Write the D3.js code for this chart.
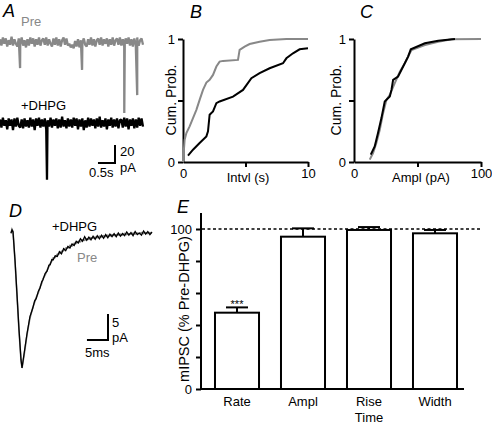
<!DOCTYPE html>
<html><head><meta charset="utf-8">
<script src="https://cdn.jsdelivr.net/npm/d3@7"></script>
<style>
body{margin:0;background:#fff;}
svg text{font-family:"Liberation Sans",Arial,Helvetica,sans-serif;}
</style></head>
<body><svg id="fig" width="492" height="425"></svg>
<script>
// ---------- DATA ----------
// Panel A: raw traces (pA noise samples over 4.2 s) and spike events
const A_DURATION = 4.2;
const preNoise = [3,-4,5,-2,4,-5,2,-3,6,-4,3,-2,-5,4,-3,5,-4,2,-6,3,-4,5,-2,4,-5,3,-3,5,-4,2,4,-3,5,-4,3,-2,-5,4,-3,5,-4,3,-5,2,5,-3,4,-4,-2,-6,-3,-7,1,-5,3,-6,2,-4,4,-3,-5,3,-3,5,-4,3,-5,2,4,-3,5,-4,3,-2,4,-5,3,-3,5,-4,2,4,-3,5,-4,3,-5,4,-2,5,-4,3,-5,4,-3,5,-4,2,4,-3];
const dhpgNoise = [4,-5,6,-3,3,-7,5,-3,4,-8,5,-4,6,-3,-5,4,-6,5,-4,3,-5,6,-4,4,-8,5,-3,6,-5,4,-4,5,-7,3,-4,6,-5,4,-3,5,-6,4,-5,7,-4,3,-6,5,-4,4,-5,6,-3,5,-7,4,-4,5,-8,3,-5,6,-4,5,-3,4,-6,5,-4,7,-5,3,-4,5,-7,4,-3,6,-5,4,-4,5,-6,3,4,-5,6,-4,5,-7,4,-3,5,-6,4,-5,6,-3,5,-4];
const preSpikeTimes = [0.59, 2.41, 3.65, 4.03];
const preSpikeAmps  = [-29, -31, -79, -59];
const dhpgSpikeTimes = [1.38];
const dhpgSpikeAmps  = [-63];

// Panel B: cumulative probability of inter-event interval (s)
const bPreX  = [0,0.13,0.27,0.53,0.8,1.07,1.33,1.6,1.87,2.13,2.4,2.67,2.93,3.2,4.4,4.53,4.93,5.33,6.13,6.93,8.27,10];
const bPreY  = [0,0.18,0.235,0.29,0.357,0.424,0.505,0.586,0.646,0.668,0.708,0.776,0.816,0.822,0.83,0.911,0.938,0.959,0.978,0.992,1.0,1.0];
const bDhpgX = [0.4,0.8,1.33,1.87,2.0,2.13,2.4,2.67,2.93,4.0,4.8,5.47,6.13,6.93,8.0,8.27,8.8,9.33,10];
const bDhpgY = [0.051,0.1,0.154,0.208,0.249,0.384,0.411,0.478,0.492,0.532,0.586,0.681,0.722,0.762,0.803,0.843,0.884,0.916,0.924];

// Panel C: cumulative probability of amplitude (pA)
const cPreX  = [12.4,15.0,17.6,20.3,22.9,25.5,28.2,32.1,36.1,40.0,43.9,45.3,55.8,66.3,76.8,100];
const cPreY  = [0.019,0.073,0.154,0.262,0.397,0.505,0.546,0.641,0.735,0.803,0.884,0.911,0.951,0.978,0.997,1.0];
const cDhpgX = [13.2,16.3,18.9,21.6,24.2,28.2,29.5,30.8,34.7,38.7,42.6,44.7,55.8,66.3,79.5];
const cDhpgY = [0.06,0.127,0.235,0.357,0.492,0.532,0.586,0.668,0.695,0.776,0.857,0.916,0.965,0.986,1.0];

// Panel D: averaged mIPSC (ms, pA)
const dTime = [0,0.24,0.48,0.95,1.43,1.9,2.38,2.62,3.1,3.8,4.5,5.2,5.6,6.0,6.5,6.9,7.3,7.6,8.1,8.6,9.0,9.3,9.7,10.0,10.5,11.0,11.5,12.0,12.5,13.0,13.5,14.0,14.5,15.0,15.5,16.0,16.5,17.0,17.5,18.0,18.5,19.0,19.5,20.0,20.5,21.0,21.5,22.0,22.5,23.0,23.5,24.0,24.5,25.0,25.5,26.0,26.5,27.0,27.5,28.0,28.5,29.0,29.5,30.0,30.5,31.0,31.5,32.0,32.5,33.0,33.5];
const dDhpg = [-0.2,0.4,0,-5.4,-12.1,-18.8,-24.6,-26.2,-23.5,-19.6,-16.3,-14.6,-13.3,-12.8,-11.4,-10.8,-9.6,-9.2,-8.0,-7.5,-6.4,-6.3,-5.3,-5.4,-4.6,-4.7,-3.8,-4.2,-3.2,-3.6,-2.8,-3.1,-2.3,-2.6,-1.8,-2.1,-1.3,-1.8,-0.9,-1.6,-1.0,-1.5,-0.8,-1.4,-0.7,-1.3,-0.6,-1.2,-0.5,-1.1,-0.4,-0.9,-0.3,-0.9,-0.2,-0.8,-0.3,-0.7,0.0,-0.6,-0.1,-0.7,0.1,-0.5,-0.2,-0.6,0.2,-0.4,0.1,-0.5,0.0];
const dPre  = [-0.3,0.5,0.1,-5.6,-12.3,-19.0,-24.8,-26.2,-23.8,-19.8,-16.6,-14.5,-13.6,-12.6,-11.7,-10.6,-9.9,-9.0,-8.3,-7.3,-6.7,-6.1,-5.6,-5.0,-4.9,-4.3,-4.2,-3.7,-3.6,-3.1,-3.1,-2.6,-2.7,-2.2,-2.2,-1.8,-1.9,-1.5,-1.6,-1.3,-1.4,-1.1,-1.2,-1.0,-1.1,-0.8,-1.0,-0.7,-0.9,-0.6,-0.8,-0.5,-0.7,-0.5,-0.6,-0.4,-0.6,-0.3,-0.5,-0.3,-0.4,-0.2,-0.4,-0.2,-0.3,-0.1,-0.3,-0.1,-0.3,-0.1,-0.2];

// Panel E: % of pre-DHPG
const eCategories = ["Rate","Ampl","Rise Time","Width"];
const eMeans = [47.7, 95.2, 99.4, 97.3];
const eSem   = [3.3, 5.2, 1.8, 2.1];
const eTickLabels = {0:"0", 100:"100"};

// ---------- DRAWING ----------
const svg = d3.select("#fig");
const GRAY = "#888888";
const FONT = 13;

function txt(x,y,s,opt={}) {
  const t = svg.append("text").attr("x",x).attr("y",y).text(s)
    .attr("font-size",opt.size||FONT).attr("fill",opt.fill||"#000")
    .attr("text-anchor",opt.anchor||"start");
  if (opt.italic) t.attr("font-style","italic");
  if (opt.rotate) t.attr("transform",`rotate(-90,${x},${y})`);
  return t;
}
function panelLetter(x,y,s){ txt(x,y,s,{size:18,italic:true}); }

// ----- Panel A -----
const xA = d3.scaleLinear([0, A_DURATION],[0,143]);
const yApre = d3.scaleLinear([0,-100],[42,132]);
const yAdhpg = d3.scaleLinear([0,-100],[123,213]);
function buildTrace(noise, sTimes, sAmps){
  const dt = A_DURATION/(noise.length-1);
  const pts = noise.map((v,i)=>({t:i*dt, v}));
  sTimes.forEach((t,i)=>{ pts.push({t:t, v:sAmps[i]}); pts.push({t:t+0.015, v:0}); });
  pts.sort((a,b)=>a.t-b.t);
  return pts;
}
const preTrace = buildTrace(preNoise, preSpikeTimes, preSpikeAmps);
const dhpgTrace = buildTrace(dhpgNoise, dhpgSpikeTimes, dhpgSpikeAmps);
svg.append("path").datum(preTrace)
  .attr("d", d3.line().x(d=>xA(d.t)).y(d=>yApre(d.v)))
  .attr("fill","none").attr("stroke",GRAY).attr("stroke-width",2.3).attr("stroke-linejoin","bevel");
svg.append("path").datum(dhpgTrace)
  .attr("d", d3.line().x(d=>xA(d.t)).y(d=>yAdhpg(d.v)))
  .attr("fill","none").attr("stroke","#000").attr("stroke-width",2.3).attr("stroke-linejoin","bevel");
panelLetter(3,17,"A");
txt(21,26,"Pre",{fill:GRAY});
txt(21,110,"+DHPG");
// scale bar A: 0.5 s, 20 pA
{
  const bx = 115, by = 163;
  const w = xA(0.5)-xA(0), h = yApre(-20)-yApre(0);
  svg.append("path").attr("d",`M${bx-w},${by}H${bx}V${by-h}`)
    .attr("fill","none").attr("stroke","#000").attr("stroke-width",2);
  txt(120,156,"20");
  txt(120,172,"pA");
  txt(89,177,"0.5s");
}

// ----- cumulative panels -----
function cumPanel(xScale, yScale, xTicks, xTitle, xTitleX, series, yTitleX){
  const gy = svg.append("g").attr("transform",`translate(${xScale.range()[0]},0)`)
    .call(d3.axisLeft(yScale).tickValues([0,0.5,1]).tickFormat(d=>d===0.5?"":d).tickSize(5).tickSizeOuter(0).tickPadding(3));
  const gx = svg.append("g").attr("transform",`translate(0,${yScale.range()[0]})`)
    .call(d3.axisBottom(xScale).tickValues(xTicks).tickFormat((d,i)=>i===1?"":d).tickSize(5).tickSizeOuter(0).tickPadding(2));
  [gx,gy].forEach(g=>{
    g.selectAll("path,line").attr("stroke","#000").attr("stroke-width",2);
    g.selectAll("text").attr("font-size",FONT).attr("font-family",'"Liberation Sans",Arial,sans-serif');
  });
  gx.selectAll("line").filter((d,i)=>i===0).remove();
  txt(xTitleX, 182, xTitle, {anchor:"middle"});
  txt(yTitleX, 100, "Cum. Prob.", {anchor:"middle", rotate:true, size:14});
  series.forEach(s=>{
    const pts = s.x.map((v,i)=>[v, s.y[i]]);
    svg.append("path").datum(pts)
      .attr("d", d3.line().x(d=>xScale(d[0])).y(d=>yScale(d[1])))
      .attr("fill","none").attr("stroke",s.color).attr("stroke-width",2);
  });
}
const xB = d3.scaleLinear([0,10],[183,308]);
const yB = d3.scaleLinear([0,1],[162,39]);
cumPanel(xB, yB, [0,5,10], "Intvl (s)", 248,
  [{x:bPreX,y:bPreY,color:GRAY},{x:bDhpgX,y:bDhpgY,color:"#000"}], 176);
panelLetter(190,18,"B");

const xC = d3.scaleLinear([0,100],[354,481]);
const yC = d3.scaleLinear([0,1],[162,39]);
cumPanel(xC, yC, [0,50,100], "Ampl (pA)", 421,
  [{x:cPreX,y:cPreY,color:GRAY},{x:cDhpgX,y:cDhpgY,color:"#000"}], 341);
panelLetter(360,18,"C");

// ----- Panel D -----
const xD = d3.scaleLinear([0,33.5],[11,152]);
const yD = d3.scaleLinear([0,-26.2],[232,368]);
const lineD = d3.line().x((d,i)=>xD(dTime[i])).y(d=>yD(d));
svg.append("path").datum(dPre).attr("d",lineD)
  .attr("fill","none").attr("stroke",GRAY).attr("stroke-width",1.6);
svg.append("path").datum(dDhpg).attr("d",lineD)
  .attr("fill","none").attr("stroke","#000").attr("stroke-width",1.3);
panelLetter(9,217,"D");
txt(52,231,"+DHPG");
txt(77,262,"Pre",{fill:GRAY});
{
  const bx = 108, by = 340;
  const w = xD(5)-xD(0), h = yD(-5)-yD(0);
  svg.append("path").attr("d",`M${bx-w},${by}H${bx}V${by-h}`)
    .attr("fill","none").attr("stroke","#000").attr("stroke-width",2);
  txt(112,327,"5");
  txt(112,342,"pA");
  txt(85,357,"5ms");
}

// ----- Panel E -----
const yE = d3.scaleLinear([0,110],[389,213]);
const xE = d3.scaleBand(eCategories,[201,471]).paddingInner(0.333).paddingOuter(0.212);
const gyE = svg.append("g").attr("transform","translate(201,0)")
  .call(d3.axisLeft(yE).tickValues([0,20,40,60,80,100]).tickFormat(d=>eTickLabels[d]||"").tickSize(5).tickSizeOuter(0).tickPadding(4));
gyE.selectAll("path,line").attr("stroke","#000").attr("stroke-width",2);
gyE.selectAll("text").attr("font-size",FONT).attr("font-family",'"Liberation Sans",Arial,sans-serif');
gyE.select("path.domain").attr("d",`M0,${yE(110)}V${yE(0)}`);
svg.append("line").attr("x1",200).attr("x2",464).attr("y1",yE(0)).attr("y2",yE(0))
  .attr("stroke","#000").attr("stroke-width",2);
// dashed reference line at 100
svg.append("line").attr("x1",202).attr("x2",481).attr("y1",yE(100)).attr("y2",yE(100))
  .attr("stroke","#000").attr("stroke-width",1.5).attr("stroke-dasharray","3,2.5");
// bars
eCategories.forEach((c,i)=>{
  const x0 = xE(c), bw = xE.bandwidth(), cx = x0+bw/2;
  svg.append("rect").attr("x",x0).attr("y",yE(eMeans[i])).attr("width",bw)
    .attr("height",yE(0)-yE(eMeans[i])).attr("fill","#fff").attr("stroke","#000").attr("stroke-width",2);
  const top = yE(eMeans[i]+eSem[i]);
  svg.append("line").attr("x1",cx).attr("x2",cx).attr("y1",yE(eMeans[i])).attr("y2",top)
    .attr("stroke","#000").attr("stroke-width",2);
  svg.append("line").attr("x1",cx-11).attr("x2",cx+11).attr("y1",top).attr("y2",top)
    .attr("stroke","#000").attr("stroke-width",2);
  const parts = c.split(" ");
  parts.forEach((p,j)=>txt(cx, 406+16*j, p, {anchor:"middle"}));
});
txt(xE("Rate")+xE.bandwidth()/2, 308, "***", {anchor:"middle", size:11});
txt(189, 309, "mIPSC (% Pre-DHPG)", {anchor:"middle", rotate:true, size:14.5});
panelLetter(177,213,"E");
</script></body></html>
